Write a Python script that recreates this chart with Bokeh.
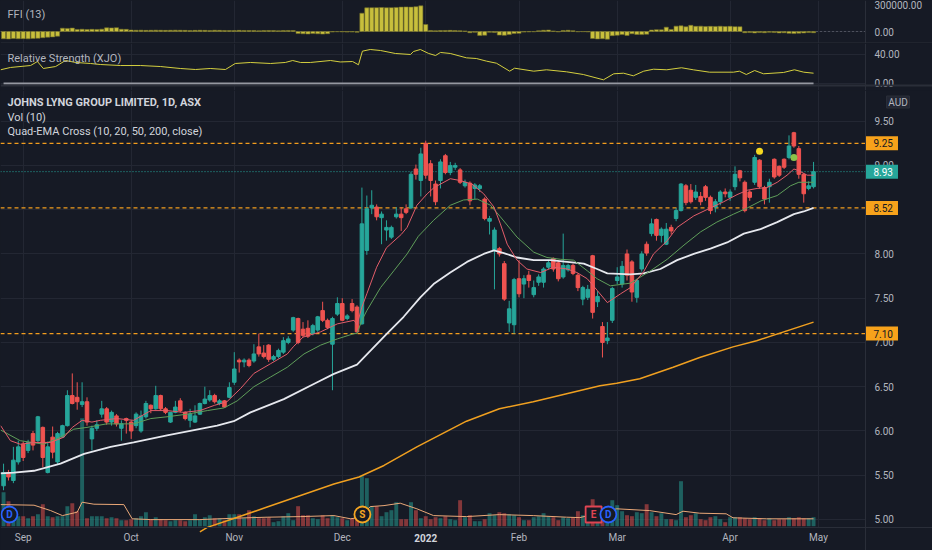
from bokeh.plotting import figure
from bokeh.models import (ColumnDataSource, FixedTicker, PrintfTickFormatter,
                          Span, Label, Grid, Range1d, BoxAnnotation)
from bokeh.layouts import column
from bokeh.embed import file_html
from bokeh.resources import INLINE
from bokeh.core.properties import value

# ---------------------------------------------------------------- data
OPEN = [5.38, 5.53, 5.44, 5.65, 5.85, 5.78, 5.97, 5.89, 6.04, 5.53,
        5.93, 5.65, 5.93, 6.06, 6.40, 6.38, 6.30, 6.33, 5.91, 6.03,
        6.19, 6.25, 6.10, 6.17, 6.03, 6.14, 6.10, 6.06, 6.00, 6.16,
        6.29, 6.25, 6.40, 6.25, 6.10, 6.21, 6.34, 6.21, 6.12, 6.10,
        6.19, 6.31, 6.35, 6.40, 6.31, 6.34, 6.38, 6.55, 6.80, 6.78,
        6.80, 6.79, 6.95, 6.88, 6.97, 6.81, 6.84, 6.89, 7.00, 7.14,
        7.27, 7.15, 7.16, 7.10, 7.14, 7.36, 7.25, 6.98, 7.32, 7.44,
        7.27, 7.44, 7.40, 7.21, 8.04, 8.52, 8.53, 8.41, 8.27, 8.19,
        8.42, 8.45, 8.51, 8.52, 8.96, 8.83, 9.25, 9.02, 8.79, 8.83,
        9.11, 8.92, 8.98, 8.95, 8.77, 8.80, 8.74, 8.74, 8.62, 8.37,
        8.04, 8.06, 7.89, 7.22, 7.20, 7.72, 7.66, 7.76, 7.54, 7.68,
        7.68, 7.85, 7.95, 7.90, 7.74, 7.82, 7.87, 7.76, 7.49, 7.51,
        7.98, 7.46, 7.18, 7.02, 7.25, 7.70, 7.66, 8.00, 7.91, 7.51,
        7.83, 8.11, 8.23, 8.39, 8.21, 8.11, 8.30, 8.40, 8.49, 8.77,
        8.72, 8.64, 8.65, 8.76, 8.64, 8.53, 8.59, 8.70, 8.64, 8.76,
        8.94, 8.81, 8.70, 8.81, 9.06, 8.75, 8.76, 9.07, 8.99, 9.07,
        9.09, 9.37, 9.19, 8.90, 8.74, 8.76]
HIGH = [5.63, 5.56, 5.82, 5.89, 5.88, 5.90, 6.00, 6.17, 6.05, 5.88,
        6.05, 5.99, 6.07, 6.46, 6.65, 6.55, 6.55, 6.38, 6.06, 6.12,
        6.34, 6.27, 6.23, 6.19, 6.12, 6.15, 6.12, 6.21, 6.23, 6.34,
        6.30, 6.51, 6.41, 6.27, 6.21, 6.34, 6.37, 6.22, 6.25, 6.29,
        6.32, 6.50, 6.46, 6.42, 6.36, 6.35, 6.55, 6.89, 6.82, 6.82,
        6.82, 6.98, 7.10, 6.97, 6.98, 6.86, 6.93, 7.06, 7.07, 7.29,
        7.28, 7.23, 7.25, 7.21, 7.30, 7.46, 7.27, 7.29, 7.51, 7.50,
        7.32, 7.49, 7.42, 8.75, 8.66, 8.72, 8.56, 8.48, 8.38, 8.32,
        8.53, 8.53, 8.56, 8.93, 9.01, 9.20, 9.28, 9.06, 8.83, 9.07,
        9.13, 9.04, 9.03, 8.97, 8.84, 8.82, 8.80, 8.79, 8.64, 8.43,
        8.30, 8.08, 7.92, 7.47, 7.73, 7.93, 7.76, 7.81, 7.70, 7.77,
        7.85, 7.93, 7.96, 7.92, 8.23, 7.89, 7.89, 7.78, 7.64, 7.65,
        7.99, 7.58, 7.23, 7.23, 7.63, 7.85, 7.92, 8.05, 7.93, 7.72,
        8.03, 8.14, 8.40, 8.40, 8.30, 8.35, 8.33, 8.52, 8.80, 8.79,
        8.79, 8.78, 8.70, 8.78, 8.66, 8.62, 8.72, 8.74, 8.73, 8.99,
        8.95, 8.83, 8.72, 9.12, 9.07, 8.77, 8.85, 9.08, 9.00, 9.08,
        9.34, 9.38, 9.22, 8.91, 8.82, 9.04]
LOW = [5.33, 5.44, 5.41, 5.62, 5.66, 5.75, 5.78, 5.86, 5.59, 5.52,
       5.69, 5.62, 5.92, 6.05, 6.30, 6.24, 6.27, 6.06, 5.78, 6.00,
       6.15, 6.07, 6.06, 6.05, 5.89, 5.97, 5.91, 6.03, 5.98, 6.14,
       6.20, 6.24, 6.23, 6.19, 6.09, 6.20, 6.21, 6.12, 6.04, 6.09,
       6.18, 6.30, 6.33, 6.31, 6.29, 6.26, 6.37, 6.52, 6.66, 6.72,
       6.72, 6.77, 6.84, 6.82, 6.78, 6.79, 6.82, 6.87, 6.98, 7.12,
       6.98, 7.06, 7.05, 7.08, 7.12, 7.23, 7.15, 6.46, 7.30, 7.24,
       7.25, 7.34, 7.11, 7.20, 7.99, 8.45, 8.38, 8.11, 8.15, 8.17,
       8.40, 8.26, 8.45, 8.51, 8.84, 8.65, 8.85, 8.65, 8.55, 8.74,
       8.90, 8.89, 8.95, 8.79, 8.75, 8.55, 8.62, 8.70, 8.38, 8.22,
       7.60, 7.97, 7.47, 7.12, 7.10, 7.51, 7.50, 7.62, 7.51, 7.64,
       7.62, 7.83, 7.80, 7.69, 7.72, 7.80, 7.76, 7.58, 7.42, 7.48,
       7.27, 7.40, 6.83, 6.98, 7.22, 7.66, 7.62, 7.70, 7.46, 7.45,
       7.80, 7.98, 8.20, 8.15, 8.13, 8.10, 8.22, 8.37, 8.48, 8.55,
       8.57, 8.61, 8.55, 8.60, 8.45, 8.47, 8.55, 8.64, 8.60, 8.72,
       8.82, 8.47, 8.60, 8.78, 8.74, 8.56, 8.58, 8.85, 8.87, 8.96,
       9.07, 9.20, 8.85, 8.58, 8.72, 8.74]
CLOSE = [5.53, 5.48, 5.67, 5.82, 5.70, 5.87, 5.84, 6.16, 5.70, 5.82,
         5.76, 5.97, 6.06, 6.40, 6.31, 6.33, 6.33, 6.10, 6.03, 6.07,
         6.25, 6.10, 6.21, 6.08, 6.08, 6.12, 6.00, 6.19, 6.17, 6.31,
         6.25, 6.40, 6.25, 6.21, 6.21, 6.27, 6.23, 6.14, 6.19, 6.17,
         6.31, 6.36, 6.40, 6.33, 6.34, 6.27, 6.49, 6.70, 6.78, 6.80,
         6.74, 6.87, 6.87, 6.84, 6.81, 6.84, 6.91, 7.02, 7.04, 7.28,
         7.00, 7.08, 7.07, 7.19, 7.29, 7.25, 7.17, 7.27, 7.44, 7.25,
         7.30, 7.36, 7.12, 8.34, 8.51, 8.55, 8.42, 8.45, 8.30, 8.30,
         8.45, 8.41, 8.47, 8.90, 8.90, 9.13, 8.89, 8.83, 8.59, 9.04,
         8.92, 9.00, 9.00, 8.81, 8.81, 8.60, 8.78, 8.77, 8.40, 8.40,
         8.27, 8.00, 7.49, 7.38, 7.71, 7.55, 7.72, 7.70, 7.62, 7.74,
         7.83, 7.90, 7.83, 7.72, 7.87, 7.87, 7.78, 7.62, 7.62, 7.60,
         7.34, 7.52, 7.00, 7.05, 7.61, 7.74, 7.86, 7.76, 7.57, 7.70,
         8.00, 8.01, 8.34, 8.21, 8.28, 8.28, 8.26, 8.49, 8.79, 8.58,
         8.59, 8.70, 8.59, 8.64, 8.49, 8.59, 8.70, 8.68, 8.70, 8.90,
         8.86, 8.49, 8.64, 9.09, 8.76, 8.62, 8.81, 8.87, 8.89, 8.98,
         9.22, 9.22, 8.90, 8.68, 8.77, 8.93]
VOLUME_K = [170, 125, 60, 50, 50, 40, 50, 60, 110, 50,
            45, 50, 50, 100, 115, 75, 540, 40, 50, 50,
            50, 40, 45, 40, 30, 30, 35, 40, 50, 70,
            35, 45, 35, 30, 25, 30, 30, 25, 30, 60,
            35, 45, 55, 40, 40, 30, 60, 60, 60, 40,
            80, 50, 40, 40, 45, 20, 25, 50, 65, 30,
            100, 55, 55, 40, 35, 55, 40, 55, 45, 40,
            30, 40, 35, 250, 240, 100, 100, 50, 70, 80,
            120, 35, 35, 120, 80, 40, 50, 35, 45, 40,
            50, 35, 30, 130, 45,
            55, 25, 25, 35, 65, 55, 70, 65, 60, 55,
            45, 30, 30, 45, 50, 65, 50, 45, 30, 45,
            40, 45, 75, 55, 50, 135, 60, 45, 50, 130,
            105, 75, 55, 50, 70, 65, 110, 70, 50, 65,
            35, 35, 30, 225, 45, 55, 65, 35, 30, 45,
            50, 35, 20, 45, 45, 45, 40, 35, 45, 40,
            30, 40, 30, 35, 35, 45, 40, 45, 40, 40,
            45]
VOLMA_X = [-0.6, 6.2, 9.6, 12, 15, 16, 18.4, 24.5, 26.2, 30, 40, 47, 53.7,
           60.5, 67.3, 70.7, 72.7, 74.7, 77.5, 80.8, 84.2, 87.6, 94.3, 101,
           107.9, 114.7, 117.4, 120, 124.9, 131.6, 137, 138.4, 141.8, 147.2,
           148.6, 155.4, 165]
VOLMA_Y = [108, 105, 78, 53, 70, 120, 110, 108, 37, 33, 33, 40, 45,
           48, 53, 37, 45, 98, 103, 115, 87, 53, 48, 58,
           53, 45, 43, 58, 87, 78, 58, 75, 65, 62,
           42, 37, 37]
FFI = [-70000, -72000, -68000, -70000, -69000, -71000, -67000, -66000,
       -60000, -55000, -52000, -45000,
       32000, 30000, 33000,
       20000, 22000, 19000, 21000, 20000, 23000,
       36000, 35000, 37000,
       22000, 21000,
       14000, 12000, 13000, 11000, 12000, 13000, 12000, 11000, 12000, 13000,
       12000, 11000, 10000, 11000, 12000, 11000, 10000, 12000, 11000, 10000,
       9000, 10000, 11000, 10000, 9000, 10000, 8000, 9000, 10000, 9000,
       8000, 9000, 10000, 9000,
       -20000, -22000, -24000, -20000, -22000, -25000, -21000,
       -5000, -3000, -4000, -6000, -5000, -8000,
       177000,
       229000, 230000, 231000, 232000, 230000, 231000, 233000, 236000, 238000, 236000,
       240000, 248000, 68000,
       10000, 8000, 9000, 10000, 11000, 9000, 8000, 6000,
       -12000, -8000, -38000, -36000, -8000, -10000, -35000, -37000, -30000, -20000, -18000,
       -6000, -4000, -3000, 8000, 12000, 14000, 6000,
       -4000, 10000, 12000, 8000, -3000, -2000, -4000,
       -68000, -72000, -70000, -74000, -40000,
       -36000, -30000, -38000, -22000, -28000, -30000, -26000,
       14000, 18000, 16000, 42000, 20000,
       52000, 55000, 46000, 60000, 50000, 52000, 48000, 50000, 49000, 51000,
       48000, 50000, 47000, 46000,
       -12000, -10000, -14000, -10000, -12000, -8000, -10000, -14000, -12000,
       -18000, -20000, -16000, -14000, -10000, -12000]
RS_X = [-0.6, 1.4, 5.5, 6.9, 8.1, 10.6, 12.6, 14.7, 17.7, 19.7, 23.8, 27.9,
        32, 36, 39.1, 42.1, 45.2, 47.2, 50.3, 54.4, 57.4, 58.9, 60.5, 62.5,
        66.6, 68.6, 71.1, 72.3, 73.1, 74.7, 76.8, 79.8, 82.9, 83.5, 84.9,
        86.6, 88, 89, 91, 94.3, 96.3, 98.4, 100.4, 103.1, 104.1, 108, 110.6,
        114.7, 118.1, 122.2, 124.3, 126.3, 128.3, 130.4, 132.4, 135.1, 138.1,
        140.5, 143.8, 148.7, 149.9, 151.3, 153, 154.8, 158.9, 161.1, 163, 165]
RS_Y = [18.9, 22.1, 24.8, 30.3, 20.7, 23.4, 31.7, 29.0, 27.6, 26.2, 24.8, 24.8,
        23.4, 20.7, 19.3, 20.7, 19.3, 27.6, 29.0, 27.6, 29.0, 31.7, 29.0, 29.0,
        31.7, 29.7, 30.3, 25.8, 44.6, 46.9, 45.5, 41.4, 40.0, 44.1, 46.9,
        41.4, 38.6, 42.8, 41.4, 35.4, 34.5, 30.8, 28.0, 17.0, 21.1, 17.0, 18.9,
        16.1, 12.4, 5.1, 13.4, 14.2, 10.6, 17.0, 19.7, 18.9, 21.7,
        18.9, 15.6, 15.6, 17.0, 12.4, 17.9, 13.4, 15.2, 18.9, 15.6, 14.2]
RS_BENCH = 0.0
EMA10_X = [-0.6, 1.4, 3.4, 6.2, 9.6, 12.3, 14, 16, 18, 19.7, 23, 26.5, 30, 33.3,
           36.7, 40, 43, 45.5, 48.3, 51, 54.4, 57.8, 59, 61, 64.6, 68, 71.4, 72,
           73, 74, 76, 78, 81, 82.2, 84.2, 86.3, 87.7, 91, 93, 95.4, 97.8, 99.9,
           101.2, 102.6, 104.6, 106.6, 109.4, 112, 114.8, 116.8, 118.9, 120.9,
           123, 125.7, 127.7, 130.4, 132.4, 135.2, 137.2, 140.6, 144, 146.7,
           149.4, 151.5, 153.5, 155.5, 157.6, 159.6, 161, 162, 163.7, 165]
EMA10_Y = [6.06, 5.89, 5.85, 5.87, 5.87, 5.93, 6.04, 6.12, 6.10, 6.12, 6.14, 6.12,
           6.23, 6.23, 6.21, 6.23, 6.29, 6.33, 6.48, 6.65, 6.76, 6.87, 6.95, 7.06,
           7.12, 7.21, 7.25, 7.20, 7.40, 7.55, 7.85, 8.07, 8.22, 8.30, 8.55, 8.68,
           8.75, 8.85, 8.83, 8.79, 8.68, 8.53, 8.34, 8.11, 7.93, 7.83, 7.79, 7.85,
           7.83, 7.79, 7.72, 7.59, 7.45, 7.55, 7.62, 7.80, 8.00, 8.15, 8.30, 8.43,
           8.52, 8.59, 8.67, 8.72, 8.74, 8.75, 8.81, 8.89, 8.96, 8.94, 8.89, 8.89]
EMA20_X = [-0.6, 3.4, 8.2, 11.6, 14.3, 17, 21, 26.5, 30, 33.3, 37.4, 41.5, 44.9,
           47.6, 51, 54.4, 57.8, 61.2, 64.6, 68, 71.4, 72, 73, 74, 76.8, 79.5,
           82.2, 84.5, 87.6, 91, 93.7, 96.5, 99.2, 101.2, 104.6, 108, 110.7,
           113.4, 116.1, 118.9, 120.9, 123.6, 127.7, 131.8, 135.2, 138.6, 142,
           145.3, 148.7, 151.5, 154.3, 157.6, 160.3, 162, 165]
EMA20_Y = [6.01, 5.89, 5.85, 5.93, 6.02, 6.04, 6.08, 6.08, 6.14, 6.16, 6.19, 6.23,
           6.26, 6.34, 6.50, 6.61, 6.72, 6.87, 6.97, 7.04, 7.10, 7.10, 7.25, 7.36,
           7.62, 7.81, 8.00, 8.20, 8.38, 8.55, 8.61, 8.62, 8.55, 8.42, 8.19, 8.02,
           7.96, 7.94, 7.93, 7.81, 7.72, 7.64, 7.67, 7.81, 7.94, 8.10, 8.25, 8.36,
           8.45, 8.52, 8.60, 8.66, 8.77, 8.81, 8.81]
EMA50_X = [-0.6, 2.1, 6.2, 11.6, 16.4, 21.8, 26.5, 33.3, 38.8, 43.5, 46.9, 50.3,
           57.1, 63.9, 67.3, 72, 74.8, 78.1, 81.5, 84.9, 87.6, 91, 94.4, 97.8,
           99.9, 101.9, 104.6, 108, 111.4, 114.8, 118.2, 120.9, 123, 127.7, 130.4,
           133.8, 137.2, 140.6, 144, 147.4, 150.8, 154.2, 157.6, 161, 163, 165]
EMA50_Y = [5.52, 5.53, 5.55, 5.63, 5.74, 5.82, 5.87, 5.95, 6.01, 6.06, 6.11, 6.21,
           6.36, 6.55, 6.645, 6.75, 6.91, 7.10, 7.29, 7.51, 7.66, 7.79, 7.91, 8.00,
           8.04, 8.01, 7.96, 7.93, 7.93, 7.91, 7.89, 7.83, 7.78, 7.77, 7.78,
           7.83, 7.93, 8.00, 8.06, 8.13, 8.23, 8.28, 8.36, 8.45, 8.48, 8.52]
EMA200_X = [40, 41.5, 46.9, 53.7, 60.5, 67.3, 72.4, 77.5, 84.2, 94.3, 101, 107.9,
            114.7, 121.5, 124.9, 129.6, 136.4, 141.8, 148.6, 153.4, 165]
EMA200_Y = [4.86, 4.91, 5.01, 5.14, 5.27, 5.40, 5.48, 5.61, 5.82, 6.11, 6.25, 6.33,
            6.42, 6.51, 6.54, 6.59, 6.72, 6.83, 6.95, 7.02, 7.23]
MONTH_TICKS = [4, 26, 47, 69, 86, 105, 125, 148, 166]
MONTH_LABELS = ["Sep", "Oct", "Nov", "Dec", "2022", "Feb", "Mar", "Apr", "May"]
PRICE_TICKS = [5.0, 5.5, 6.0, 6.5, 7.0, 7.5, 8.0, 8.5, 9.0, 9.5]
FFI_TICKS = [0, 300000]
RS_TICKS = [0, 40]
LEVELS = [9.25, 8.52, 7.10]
LAST_PRICE = 8.93
CURRENCY = "AUD"
EVENT_X = [1.2, 73.1, 120.2, 123.2]
EVENT_TEXT = ["D", "S", "E", "D"]
SIGNAL_X = [154, 161]
SIGNAL_Y = [9.16, 9.09]

# ---------------------------------------------------------------- layout / style
BG = "#161a25"
GRID = "#232733"
SEP = "#2a2e39"
AXTXT = "#b2b5be"
TITLE = "#d1d4dc"
UP = "#26a69a"
DN = "#ef5350"
LEVEL_LINE = "#f29d1e"
LEVEL_BOX = "#f7a21b"
FONT = "Roboto"
PX = 4.909                       # pixels per bar
X_START, X_END = -0.623, 189.23  # full width 932 px
X_AXIS = 175.58                  # price scale separator
P_AXIS = 4.909                   # time scale separator (price units)
xr = Range1d(X_START, X_END)
N = len(CLOSE)
IDX = list(range(N))


def style_yaxis(f, ticks):
    ya = f.yaxis[0]
    ya.fixed_location = X_AXIS
    ya.ticker = FixedTicker(ticks=ticks)
    ya.formatter = PrintfTickFormatter(format="%.2f")
    ya.axis_line_color = SEP
    ya.major_tick_line_color = None
    ya.minor_tick_line_color = None
    ya.major_tick_out = 0
    ya.major_tick_in = 0
    ya.major_label_standoff = 9
    ya.major_label_text_color = AXTXT
    ya.major_label_text_font = FONT
    ya.major_label_text_font_size = "10px"
    f.ygrid.grid_line_color = GRID


def new_fig(height, y0, y1, xaxis):
    f = figure(width=932, height=height, x_range=xr, y_range=Range1d(y0, y1),
               output_backend="svg", toolbar_location=None,
               y_axis_location="right",
               x_axis_location="below" if xaxis else None,
               min_border=0, min_border_left=0, min_border_right=0,
               min_border_top=0, min_border_bottom=0)
    f.background_fill_color = BG
    f.border_fill_color = BG
    f.outline_line_color = None
    return f


def make_pane(height, y0, y1, ticks):
    f = new_fig(height, y0, y1, False)
    style_yaxis(f, ticks)
    for g in f.xgrid:
        g.grid_line_color = None
    f.add_layout(Grid(dimension=0, ticker=FixedTicker(ticks=MONTH_TICKS),
                      grid_line_color=GRID))
    f.add_layout(BoxAnnotation(left=X_AXIS, fill_color=BG, fill_alpha=1.0,
                               line_color=None, level="underlay"))
    return f


def hline(f, yv, **kw):
    f.line([X_START, X_AXIS], [yv, yv], **kw)


# ---------------------------------------------------------------- FFI pane (ref y 0..43)
f_ffi = make_pane(43, -116100, 300000, FFI_TICKS)
hline(f_ffi, 0, line_color="#787b86", line_dash="1 3", line_width=1)
f_ffi.vbar(x=IDX, top=FFI, bottom=0, width=0.85, fill_color="#c8bf3c",
           line_color="#74702a", line_width=0.6)
f_ffi.add_layout(Span(location=-111300, dimension="width", line_color=SEP, line_width=1))
f_ffi.add_layout(Label(x=X_START + 7 / PX, y=164500, text="FFI (13)", text_color=AXTXT,
                       text_font=FONT, text_font_size="11px", text_baseline="middle"))

# ---------------------------------------------------------------- RS pane (ref y 43..90)
f_rs = make_pane(47, -9.66, 55.17, RS_TICKS)
f_rs.line(IDX, [RS_BENCH] * N, line_color="#9598a1", line_width=2)
f_rs.line(RS_X, RS_Y, line_color="#d4cf3f", line_width=1)
f_rs.add_layout(Span(location=-2.6, dimension="width", line_color=SEP, line_width=2))
f_rs.add_layout(Label(x=X_START + 7 / PX, y=34.5, text="Relative Strength (XJO)",
                      text_color=AXTXT, text_font=FONT, text_font_size="11px",
                      text_baseline="middle"))

# ---------------------------------------------------------------- main pane (ref y 90..550)
p = new_fig(460, 4.649, 9.847, True)
style_yaxis(p, PRICE_TICKS)
p.extra_y_ranges = {"vol": Range1d(-121.5, 2178.5)}

xa = p.xaxis[0]
xa.fixed_location = P_AXIS
xa.ticker = FixedTicker(ticks=MONTH_TICKS)
xa.major_label_overrides = {t: ("" if lab == "2022" else lab)
                            for t, lab in zip(MONTH_TICKS, MONTH_LABELS)}
xa.axis_line_color = SEP
xa.major_tick_line_color = None
xa.minor_tick_line_color = None
xa.major_tick_out = 0
xa.major_tick_in = 0
xa.major_label_standoff = 5
xa.major_label_text_color = AXTXT
xa.major_label_text_font = FONT
xa.major_label_text_font_size = "10px"
p.xgrid.grid_line_color = GRID

p.add_layout(BoxAnnotation(left=X_AXIS, fill_color=BG, fill_alpha=1.0,
                           line_color=None, level="underlay"))
p.add_layout(BoxAnnotation(top=P_AXIS, fill_color=BG, fill_alpha=1.0,
                           line_color=None, level="underlay"))

colors = [UP if c >= o else DN for o, c in zip(OPEN, CLOSE)]
src = ColumnDataSource(dict(
    x=IDX, o=OPEN, h=HIGH, l=LOW, c=CLOSE,
    top=[max(o, c) for o, c in zip(OPEN, CLOSE)],
    bottom=[min(o, c) for o, c in zip(OPEN, CLOSE)],
    color=colors, vol=VOLUME_K))

# volume
p.vbar(x="x", top="vol", bottom=0, width=0.8, fill_color="color", fill_alpha=0.5,
       line_color=None, y_range_name="vol", source=src)
p.line(VOLMA_X, VOLMA_Y, line_color="#eaa878", line_width=1, y_range_name="vol")

# level lines
for lv in LEVELS:
    hline(p, lv, line_color=LEVEL_LINE, line_dash="4 3", line_width=1.2)
hline(p, LAST_PRICE, line_color=UP, line_dash="1 2", line_width=1)

# candles
p.segment(x0="x", y0="l", x1="x", y1="h", line_color="color", line_width=1, source=src)
p.vbar(x="x", top="top", bottom="bottom", width=0.72, fill_color="color",
       line_color="color", line_width=1, source=src)

# EMAs
p.line(EMA200_X, EMA200_Y, line_color="#f0a020", line_width=1.5)
p.line(EMA50_X, EMA50_Y, line_color="#e6e8ee", line_width=1.8)
p.line(EMA20_X, EMA20_Y, line_color="#5f9e5a", line_width=1)
p.line(EMA10_X, EMA10_Y, line_color="#e35d6a", line_width=1)

# signals
p.scatter(SIGNAL_X, SIGNAL_Y, size=7, color=["#f5d820", "#8bc34a"], line_color=None)

# events
ev_y = 5.056
ev = ColumnDataSource(dict(x=EVENT_X, y=[ev_y] * len(EVENT_X), t=EVENT_TEXT,
                           m=["circle", "circle", "square", "circle"],
                           col=["#2962ff", "#f5a623", "#e04553", "#2962ff"]))
p.scatter(x="x", y="y", marker="m", size=16, fill_color=BG, line_color="col",
          line_width=1.8, source=ev)
p.text(x="x", y="y", text="t", text_color="col", text_font=value(FONT),
       text_font_size="10px", text_font_style="bold", text_align="center",
       text_baseline="middle", source=ev)

# titles
for yv, txt, style in [(9.715, "JOHNS LYNG GROUP LIMITED, 1D, ASX", "bold"),
                       (9.545, "Vol (10)", "normal"),
                       (9.384, "Quad-EMA Cross (10, 20, 50, 200, close)", "normal")]:
    p.add_layout(Label(x=X_START + 7 / PX, y=yv, text=txt, text_color=TITLE,
                       text_font=FONT, text_font_size="11px", text_font_style=style,
                       text_baseline="middle"))

# price boxes on the price scale (drawn above the axis labels)
box_vals = LEVELS + [LAST_PRICE]
box_src = ColumnDataSource(dict(
    y=box_vals, t=["%.2f" % v for v in box_vals],
    fill=[LEVEL_BOX] * len(LEVELS) + [UP],
    tc=["#131722"] * len(LEVELS) + ["#ffffff"]))
rb = p.rect(x=X_AXIS + 16.5 / PX, y="y", width=32, height=14, width_units="screen",
            height_units="screen", fill_color="fill", line_color=None, source=box_src)
rb.level = "overlay"
rt = p.text(x=X_AXIS + 8 / PX, y="y", text="t", text_color="tc", text_font=value(FONT),
            text_font_size="10px", text_align="left", text_baseline="middle",
            source=box_src)
rt.level = "overlay"

ra = p.rect(x=X_AXIS + 32.5 / PX, y=9.717, width=23, height=12, width_units="screen",
            height_units="screen", fill_color="#222633", line_color="#2a2e39")
ra.level = "overlay"
rat = p.text(x=X_AXIS + 32.5 / PX, y=9.717, text=[CURRENCY], text_color=AXTXT,
             text_font=value(FONT), text_font_size="10px", text_align="center",
             text_baseline="middle")
rat.level = "overlay"

p.add_layout(Label(x=86, y=4.785, text="2022", text_color=TITLE, text_font=FONT,
                   text_font_size="10px", text_font_style="bold", text_align="center",
                   text_baseline="middle"))

layout = column(f_ffi, f_rs, p, spacing=0)
html = file_html(layout, INLINE, title="JLG")
html = html.replace("<head>", "<head><style>html,body{background:#161a25;}</style>", 1)
open("out.html", "w").write(html)
